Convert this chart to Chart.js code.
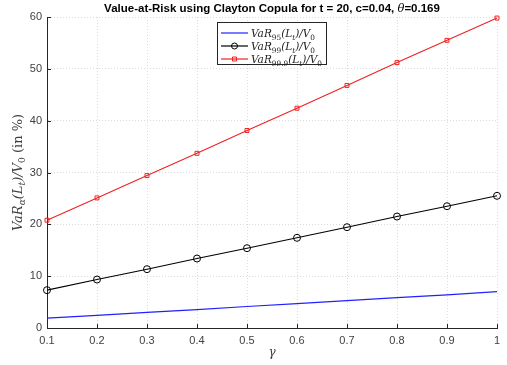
<!DOCTYPE html>
<html>
<head>
<meta charset="utf-8">
<script src="https://cdn.jsdelivr.net/npm/chart.js@4"></script>
<style>
  html, body { margin: 0; padding: 0; background: #fff; }
  #wrap { width: 507px; height: 365px; }
</style>
</head>
<body>
<div id="wrap"><canvas id="varChart" width="507" height="365"></canvas></div>
<script>
// values (in %)
const gamma = [0.1, 0.2, 0.3, 0.4, 0.5, 0.6, 0.7, 0.8, 0.9, 1.0];
const var95 = [1.9, 2.45, 3.0, 3.55, 4.15, 4.7, 5.3, 5.85, 6.4, 7.0];
const var99 = [7.3, 9.35, 11.35, 13.4, 15.4, 17.4, 19.45, 21.5, 23.5, 25.5];
const var999 = [20.8, 25.1, 29.4, 33.7, 38.1, 42.4, 46.8, 51.2, 55.5, 59.8];

const titleText = 'Value-at-Risk using Clayton Copula for t = 20, c=0.04, ';
// math-like labels, segments starting with "_" are subscripts
const legendLabels = [
  ['VaR', '_95', '(L', '_t', ')/V', '_0'],
  ['VaR', '_99', '(L', '_t', ')/V', '_0'],
  ['VaR', '_99.9', '(L', '_t', ')/V', '_0']
];
const yLabel = ['VaR', '_α', '(L', '_t', ')/V', '_0'];
const lineColors = ['#2020ff', '#000000', '#ee2222'];

const serif = '"DejaVu Serif", "Liberation Serif", serif';
const sans = 'Liberation Sans, Arial, sans-serif';
const axisColor = '#262626';
const labelColor = '#404040';

const toPoints = vals => vals.map((v, i) => ({ x: gamma[i], y: v }));

// draw a small math string made of segments, returns width
function drawMath(ctx, segs, x, y, size, doDraw) {
  let w = 0;
  segs.forEach(s => {
    const sub = s[0] === '_';
    const t = sub ? s.slice(1) : s;
    const fs = sub ? size * 0.7 : size;
    const italic = /[A-Za-zα]/.test(t) ? 'italic ' : '';
    ctx.font = italic + fs + 'px ' + serif;
    if (doDraw) ctx.fillText(t, x + w, sub ? y + size * 0.25 : y);
    w += ctx.measureText(t).width;
  });
  return w;
}

const matlabDecor = {
  id: 'matlabDecor',
  afterDraw(chart) {
    const ctx = chart.ctx;
    const area = chart.chartArea;
    const xs = chart.scales.x, ys = chart.scales.y;
    ctx.save();

    // inward ticks
    ctx.strokeStyle = axisColor;
    ctx.lineWidth = 1;
    ctx.beginPath();
    xs.ticks.forEach(t => {
      const px = Math.round(xs.getPixelForValue(t.value)) + 0.5;
      ctx.moveTo(px, area.bottom);
      ctx.lineTo(px, area.bottom - 4);
    });
    ys.ticks.forEach(t => {
      const py = Math.round(ys.getPixelForValue(t.value)) + 0.5;
      ctx.moveTo(area.left, py);
      ctx.lineTo(area.left + 4, py);
    });
    ctx.stroke();

    // title
    ctx.fillStyle = '#000';
    ctx.textBaseline = 'alphabetic';
    ctx.font = 'bold 11.5px ' + sans;
    const w1 = ctx.measureText(titleText).width;
    ctx.font = 'italic 11.5px ' + serif;
    const wTh = ctx.measureText('θ').width;
    ctx.font = 'bold 11.5px ' + sans;
    const w2 = ctx.measureText('=0.169').width;
    let tx = (area.left + area.right) / 2 - (w1 + wTh + w2) / 2;
    const ty = 12;
    ctx.fillText(titleText, tx, ty);
    tx += w1;
    ctx.font = 'italic 11.5px ' + serif;
    ctx.fillText('θ', tx, ty);
    tx += wTh;
    ctx.font = 'bold 11.5px ' + sans;
    ctx.fillText('=0.169', tx, ty);

    // legend box
    const lx = 217, ly = 22, lw = 109, lh = 42;
    ctx.fillStyle = '#fff';
    ctx.fillRect(lx, ly, lw, lh);
    ctx.strokeStyle = axisColor;
    ctx.lineWidth = 1;
    ctx.strokeRect(lx + 0.5, ly + 0.5, lw, lh);
    for (let i = 0; i < 3; i++) {
      const ds = chart.data.datasets[i];
      const cy = ly + 11 + i * 13;
      ctx.beginPath();
      ctx.strokeStyle = lineColors[i];
      ctx.lineWidth = 1.2;
      ctx.moveTo(lx + 4, cy);
      ctx.lineTo(lx + 31, cy);
      ctx.stroke();
      if (ds.pointRadius > 0) {
        ctx.beginPath();
        ctx.lineWidth = 1;
        if (ds.pointStyle === 'rect') {
          ctx.rect(lx + 15.5, cy - 2, 4, 4);
        } else {
          ctx.arc(lx + 17.5, cy, 3, 0, Math.PI * 2);
        }
        ctx.stroke();
      }
      ctx.fillStyle = '#222';
      drawMath(ctx, legendLabels[i], lx + 34, cy + 4, 10.5, true);
    }

    // x axis title
    ctx.fillStyle = labelColor;
    ctx.font = 'italic 12px ' + serif;
    ctx.textAlign = 'center';
    ctx.fillText('γ', (area.left + area.right) / 2, 356);
    ctx.textAlign = 'left';

    // y axis title, rotated
    ctx.translate(22, (area.top + area.bottom) / 2);
    ctx.rotate(-Math.PI / 2);
    const ySize = 13;
    const wm = drawMath(ctx, yLabel, 0, 0, ySize, false);
    ctx.font = ySize + 'px ' + serif;
    const wu = ctx.measureText(' (in %)').width;
    const sx = -(wm + wu) / 2;
    drawMath(ctx, yLabel, sx, 0, ySize, true);
    ctx.font = ySize + 'px ' + serif;
    ctx.fillText(' (in %)', sx + wm, 0);

    ctx.restore();
  }
};

const ctx = document.getElementById('varChart').getContext('2d');

new Chart(ctx, {
  type: 'line',
  data: {
    datasets: [
      {
        label: 'VaR95',
        data: toPoints(var95),
        borderColor: lineColors[0],
        borderWidth: 1.2,
        pointRadius: 0,
        clip: false
      },
      {
        label: 'VaR99',
        data: toPoints(var99),
        borderColor: lineColors[1],
        borderWidth: 1.1,
        pointStyle: 'circle',
        pointRadius: 3.5,
        pointBorderWidth: 1,
        pointBackgroundColor: 'rgba(0,0,0,0)',
        clip: false
      },
      {
        label: 'VaR99.9',
        data: toPoints(var999),
        borderColor: lineColors[2],
        borderWidth: 1.1,
        pointStyle: 'rect',
        pointRadius: 2.8,
        pointBorderWidth: 1,
        pointBackgroundColor: 'rgba(0,0,0,0)',
        clip: false
      }
    ]
  },
  options: {
    responsive: false,
    animation: false,
    layout: { padding: { top: 17, right: 10, left: 0, bottom: 0 } },
    plugins: {
      legend: { display: false },
      title: { display: false },
      tooltip: { enabled: false }
    },
    scales: {
      x: {
        type: 'linear',
        min: 0.1,
        max: 1,
        ticks: {
          stepSize: 0.1,
          color: labelColor,
          font: { family: sans, size: 11 },
          padding: 6,
          maxRotation: 0,
          callback: v => String(Math.round(v * 10) / 10)
        },
        grid: { color: '#dcdcdc', drawTicks: false },
        border: { display: true, color: axisColor, width: 1, dash: [1, 2] },
        afterFit: s => { s.height = 37; }
      },
      y: {
        min: 0,
        max: 60,
        ticks: {
          stepSize: 10,
          color: labelColor,
          font: { family: sans, size: 11 },
          padding: 5
        },
        grid: { color: '#dcdcdc', drawTicks: false },
        border: { display: true, color: axisColor, width: 1, dash: [1, 2] },
        afterFit: s => { s.width = 47; }
      }
    }
  },
  plugins: [matlabDecor]
});
</script>
</body>
</html>
